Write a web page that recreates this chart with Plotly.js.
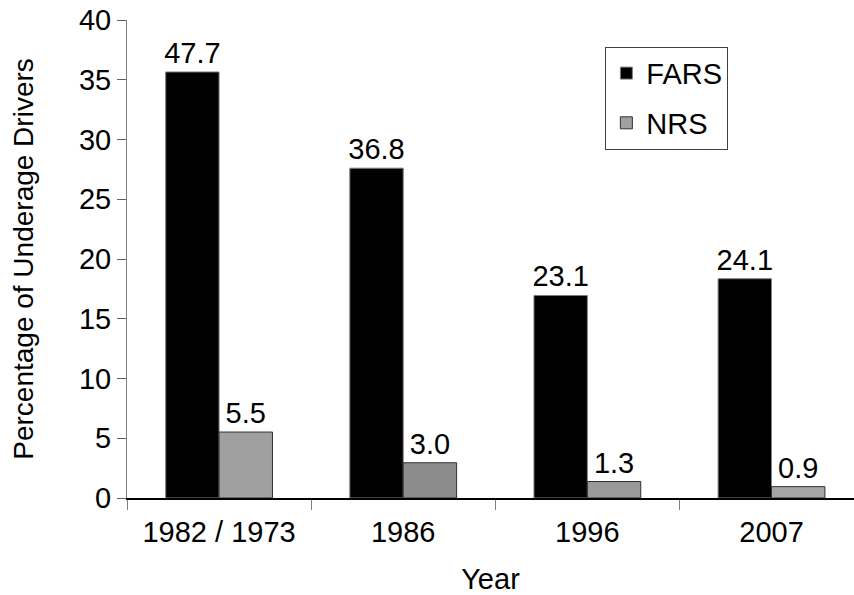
<!DOCTYPE html>
<html>
<head>
<meta charset="utf-8">
<script src="https://cdn.plot.ly/plotly-3.0.1.min.js"></script>
<style>html,body{margin:0;padding:0;background:#fff;}#chart{width:854px;height:595px;}</style>
</head>
<body>
<div id="chart"></div>
<script>
// Data
var categories = ['1982 / 1973', '1986', '1996', '2007'];
var farsHeights = [35.65, 27.6, 16.95, 18.35];   // bar heights as drawn
var farsLabels = ['47.7', '36.8', '23.1', '24.1'];
var nrsHeights = [5.52, 2.95, 1.38, 0.95];
var nrsLabels = ['5.5', '3.0', '1.3', '0.9'];
var yTicks = [0, 5, 10, 15, 20, 25, 30, 35, 40];

var FONT = '"Liberation Sans", Arial, Helvetica, sans-serif';
var FS = 29;

var traces = [
  {
    type: 'bar', name: 'FARS', x: categories, y: farsHeights,
    text: farsLabels, textposition: 'outside', constraintext: 'none',
    textfont: {family: FONT, size: FS, color: '#000'},
    marker: {color: '#000000', line: {color: '#808080', width: 1}},
    cliponaxis: false, hoverinfo: 'skip', legendgroup: 'a'
  },
  {
    type: 'bar', name: 'NRS', x: categories, y: nrsHeights,
    text: nrsLabels, textposition: 'outside', constraintext: 'none',
    textfont: {family: FONT, size: FS, color: '#000'},
    marker: {color: ['#a0a0a0', '#8c8c8c', '#999999', '#a5a5a5'], line: {color: '#303030', width: 1}},
    cliponaxis: false, hoverinfo: 'skip', legendgroup: 'b'
  }
];

var layout = {
  width: 854, height: 595,
  margin: {l: 127, r: 0, t: 20, b: 97, pad: 0},
  paper_bgcolor: '#fff', plot_bgcolor: '#fff',
  font: {family: FONT, size: FS, color: '#000'},
  barmode: 'group', bargap: 0.42, bargroupgap: 0,
  showlegend: true,
  legend: {
    x: 0.658, y: 0.944, xanchor: 'left', yanchor: 'top',
    bordercolor: '#404040', borderwidth: 1, bgcolor: '#fff',
    font: {family: FONT, size: FS, color: '#000'},
    tracegroupgap: 9, traceorder: 'grouped'
  },
  xaxis: {
    type: 'category', range: [-0.5, 3.448], automargin: false,
    showline: true, linecolor: '#000', linewidth: 1.5,
    ticks: 'outside', tickson: 'boundaries', ticklen: 10, tickcolor: '#808080', tickwidth: 1,
    ticklabelstandoff: 8,
    showgrid: false, zeroline: false, fixedrange: true,
    tickfont: {family: FONT, size: FS, color: '#000'},
    title: {text: 'Year', font: {family: FONT, size: FS, color: '#000'}, standoff: 22}
  },
  yaxis: {
    range: [0, 40], tickvals: yTicks, automargin: false,
    showline: true, linecolor: '#808080', linewidth: 1,
    ticks: 'outside', ticklen: 9, tickcolor: '#606060', tickwidth: 1,
    showgrid: false, zeroline: false, fixedrange: true,
    tickfont: {family: FONT, size: FS, color: '#000'},
    title: {text: 'Percentage of Underage Drivers', font: {family: FONT, size: 28, color: '#000'}, standoff: 37}
  }
};

Plotly.newPlot('chart', traces, layout, {staticPlot: true, displayModeBar: false});
</script>
</body>
</html>
